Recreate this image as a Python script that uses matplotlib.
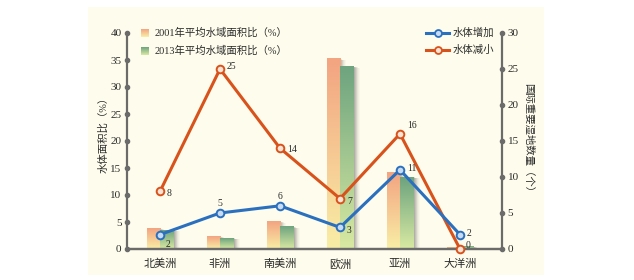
import numpy as np
import matplotlib.pyplot as plt
from matplotlib.patches import Rectangle
from matplotlib.lines import Line2D
from matplotlib.colors import to_rgb

# ==================== 数据 ====================
continents = ['北美洲', '非洲', '南美洲', '欧洲', '亚洲', '大洋洲']
area_2001 = [3.8, 2.3, 5.1, 35.2, 14.1, 0.3]   # %
area_2013 = [3.5, 2.0, 4.1, 33.8, 13.3, 0.4]   # %
water_up = [2, 5, 6, 3, 11, 2]                 # 个
water_down = [8, 25, 14, 7, 16, 0]             # 个

FONT = ['Liberation Serif', 'Noto Sans CJK SC']
plt.rcParams['font.family'] = FONT
plt.rcParams['axes.unicode_minus'] = False

W, H = 634, 280
fig = plt.figure(figsize=(W / 100, H / 100), dpi=100)
fig.patch.set_facecolor('white')

def px(x, y):
    return x / W, 1 - y / H

# 奶油色底板
x0, y0 = px(88, 275)
x1, y1 = px(544, 7)
fig.add_artist(Rectangle((x0, y0), x1 - x0, y1 - y0, transform=fig.transFigure,
                         facecolor='#fefcec', edgecolor='none', zorder=-10))

l, b = px(127, 249)
r, t = px(502, 33)
ax = fig.add_axes([l, b, r - l, t - b])
ax.set_facecolor('none')
ax.set_xlim(-0.55, 5.7)
ax.set_ylim(0, 40)
ax2 = ax.twinx()
ax2.set_ylim(0, 30)

axis_c = '#6b6b6b'
text_c = '#2b2b2b'

# ---- 柱子（渐变 + 阴影） ----
def grad_bar(x_left, width, height, c_top, c_bot):
    n = 64
    ct, cb = np.array(to_rgb(c_top)), np.array(to_rgb(c_bot))
    f = np.linspace(0, 1, n)[:, None]
    img = (ct * (1 - f) + cb * f)[:, None, :]
    # 阴影
    for k, a in zip(range(1, 7), [0.16, 0.13, 0.1, 0.07, 0.05, 0.03]):
        ax.add_patch(Rectangle((x_left + k * 0.017, 0), width, height - k * 0.04,
                               facecolor='#555555', alpha=a, edgecolor='none', zorder=1))
    ax.imshow(img, extent=[x_left, x_left + width, 0, height], aspect='auto',
              zorder=2, interpolation='bilinear')

bw = 0.225
for i in range(len(continents)):
    grad_bar(i - bw, bw, area_2001[i], '#f3a481', '#f9eea6')
    grad_bar(i, bw, area_2013[i], '#6ea47f', '#d8e9a2')
ax.set_xlim(-0.55, 5.7)
ax.set_ylim(0, 40)

# ---- 折线 ----
xs = np.arange(len(continents))
ax2.plot(xs, water_down, color='#d8531c', linewidth=2.2, marker='o', markersize=5.5,
         markerfacecolor='#fbe3d6', markeredgecolor='#d8531c', markeredgewidth=1.4,
         zorder=5, clip_on=False)
ax2.plot(xs, water_up, color='#2a70bf', linewidth=2.2, marker='o', markersize=5.5,
         markerfacecolor='#c9dbf3', markeredgecolor='#2a70bf', markeredgewidth=1.4,
         zorder=6, clip_on=False)

down_off = [(5, -3), (5, 0), (5, -3), (5, -4), (5, 4), (4, 1)]
up_off = [(4, -9), (-2, 5), (-2, 5), (5, -4), (5, -1), (5, -1)]
for i in range(len(xs)):
    ax2.annotate(str(water_down[i]), (xs[i], water_down[i]), xytext=down_off[i],
                 textcoords='offset points', fontsize=7, color=text_c, zorder=7)
    ax2.annotate(str(water_up[i]), (xs[i], water_up[i]), xytext=up_off[i],
                 textcoords='offset points', fontsize=7, color=text_c, zorder=7)

# ---- 坐标轴 ----
for a in (ax, ax2):
    a.spines['top'].set_visible(False)
    for s in ('left', 'right', 'bottom'):
        a.spines[s].set_color(axis_c)
        a.spines[s].set_linewidth(1.6)
    a.set_xticks(xs)
    a.tick_params(axis='y', length=0, labelsize=8, labelcolor=text_c, pad=4)
ax.spines['right'].set_visible(False)
ax2.spines['left'].set_visible(False)
ax.set_yticks(range(0, 41, 5))
ax2.set_yticks(range(0, 31, 5))
ax.set_xticklabels(continents, fontsize=8, color=text_c)
ax.tick_params(axis='x', length=0, pad=7)
ax2.tick_params(axis='x', length=0, labelbottom=False)

# 刻度圆点
ax.plot([-0.55] * 9, range(0, 41, 5), 'o', color=axis_c, markersize=3, clip_on=False, zorder=8)
ax2.plot([5.7] * 7, range(0, 31, 5), 'o', color=axis_c, markersize=3, clip_on=False, zorder=8)

fig.text(*px(103, 132), '水体面积比（%）', rotation=90, ha='center', va='center',
         fontsize=7.5, color=text_c)
fig.text(*px(528, 140), '国际重要湿地数量（个）', rotation=-90, ha='center', va='center',
         fontsize=7.5, color=text_c)

# ---- 图例 ----
def legend_square(xp, yp, c_top, c_bot):
    ll, bb = px(xp, yp + 8)
    la = fig.add_axes([ll, bb, 8 / W, 8 / H])
    f = np.linspace(0, 1, 32)[:, None]
    ct, cb = np.array(to_rgb(c_top)), np.array(to_rgb(c_bot))
    la.imshow((ct * (1 - f) + cb * f)[:, None, :], aspect='auto', extent=[0, 1, 0, 1])
    la.axis('off')

legend_square(141, 29, '#f3a481', '#f9eea6')
legend_square(141, 47, '#6ea47f', '#d8e9a2')
fig.text(*px(155, 33), '2001年平均水域面积比（%）', fontsize=7.5, color=text_c, va='center')
fig.text(*px(155, 51), '2013年平均水域面积比（%）', fontsize=7.5, color=text_c, va='center')

for yy, col, fc, lab in [(33, '#2a70bf', '#c9dbf3', '水体增加'),
                         (50, '#d8531c', '#fbe3d6', '水体减小')]:
    xa, ya = px(426, yy)
    xb, _ = px(449, yy)
    fig.add_artist(Line2D([xa, xb], [ya, ya], transform=fig.transFigure, color=col,
                          linewidth=2.2))
    fig.add_artist(Line2D([(xa + xb) / 2], [ya], transform=fig.transFigure, marker='o',
                          markersize=5, color=col, markerfacecolor=fc, markeredgewidth=1.3))
    fig.text(*px(453, yy), lab, fontsize=7.5, color=text_c, va='center')

fig.savefig('out.png', dpi=100)
